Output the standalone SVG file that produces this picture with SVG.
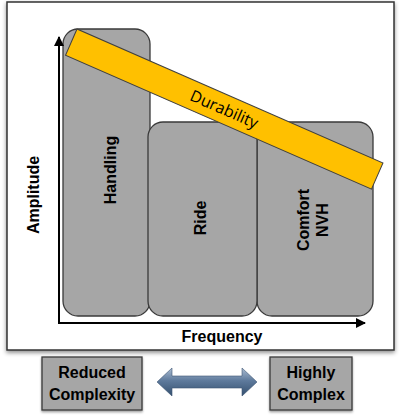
<svg xmlns="http://www.w3.org/2000/svg" width="400" height="417" viewBox="0 0 400 417">
<defs>
<filter id="sh" x="-10%" y="-10%" width="120%" height="120%">
<feDropShadow dx="0" dy="2" stdDeviation="2" flood-color="#000" flood-opacity="0.45"/>
</filter>
<filter id="sh2" x="-10%" y="-10%" width="120%" height="125%">
<feDropShadow dx="0" dy="1.5" stdDeviation="1.2" flood-color="#000" flood-opacity="0.4"/>
</filter>
<linearGradient id="ag" x1="0" y1="0" x2="0" y2="1">
<stop offset="0" stop-color="#A9BBD1"/>
<stop offset="0.45" stop-color="#5E7A9C"/>
<stop offset="1" stop-color="#34506F"/>
</linearGradient>
<marker id="ah" viewBox="0 0 10 10" refX="9" refY="5" markerWidth="5" markerHeight="5" orient="auto" markerUnits="strokeWidth">
<path d="M0,0 L10,5 L0,10 Z" fill="#000"/>
</marker>
</defs>
<style>
.box{fill:#A6A6A6;stroke:#3A3A3A;stroke-width:1.3}
.lbl{font-family:"Liberation Sans",Arial,sans-serif;font-weight:bold;font-size:16px;fill:#000;text-anchor:middle}
.dur{font-family:"Open Sans","DejaVu Sans",sans-serif;font-size:16px;fill:#000;text-anchor:middle}
.axis{stroke:#000;stroke-width:2;fill:none}
</style>
<rect x="7" y="2" width="387" height="348" fill="#fff" stroke="#333" stroke-width="1.5" filter="url(#sh)"/>
<g id="handling">
<rect class="box" x="63" y="29" width="87" height="287" rx="15"/>
<text class="lbl" transform="translate(116,170) rotate(-90)">Handling</text>
</g>
<g id="comfort">
<rect class="box" x="257" y="122" width="116" height="194" rx="15"/>
<text class="lbl" transform="translate(309,220) rotate(-90)">Comfort</text>
<text class="lbl" transform="translate(328,220) rotate(-90)">NVH</text>
</g>
<g id="ride">
<rect class="box" x="148" y="122" width="109" height="194" rx="15"/>
<text class="lbl" transform="translate(206,218) rotate(-90)">Ride</text>
</g>
<g id="axes">
<path class="axis" d="M59,323 V37" marker-end="url(#ah)"/>
<path class="axis" d="M58,323 H365" marker-end="url(#ah)"/>
<text class="lbl" transform="translate(39,195) rotate(-90)">Amplitude</text>
<text class="lbl" x="222" y="342">Frequency</text>
</g>
<g id="durability" transform="translate(77,29) rotate(23.65)">
<rect x="0" y="0" width="334" height="28.6" fill="#FFC000" stroke="#404040" stroke-width="1"/>
<text class="dur" x="167" y="20">Durability</text>
</g>
<g id="reduced">
<rect class="box" x="42" y="357" width="100" height="53" filter="url(#sh2)"/>
<text class="lbl" x="92" y="378">Reduced</text>
<text class="lbl" x="92" y="400">Complexity</text>
</g>
<g id="highly">
<rect class="box" x="270" y="357" width="82" height="53" filter="url(#sh2)"/>
<text class="lbl" x="311" y="378">Highly</text>
<text class="lbl" x="311" y="400">Complex</text>
</g>
<g id="connectors">
<path d="M157,382 L172,368 L172,376 L242,376 L242,368 L257,382 L242,396 L242,388 L172,388 L172,396 Z" fill="url(#ag)" stroke="#3E5673" stroke-width="0.6"/>
</g>
</svg>
